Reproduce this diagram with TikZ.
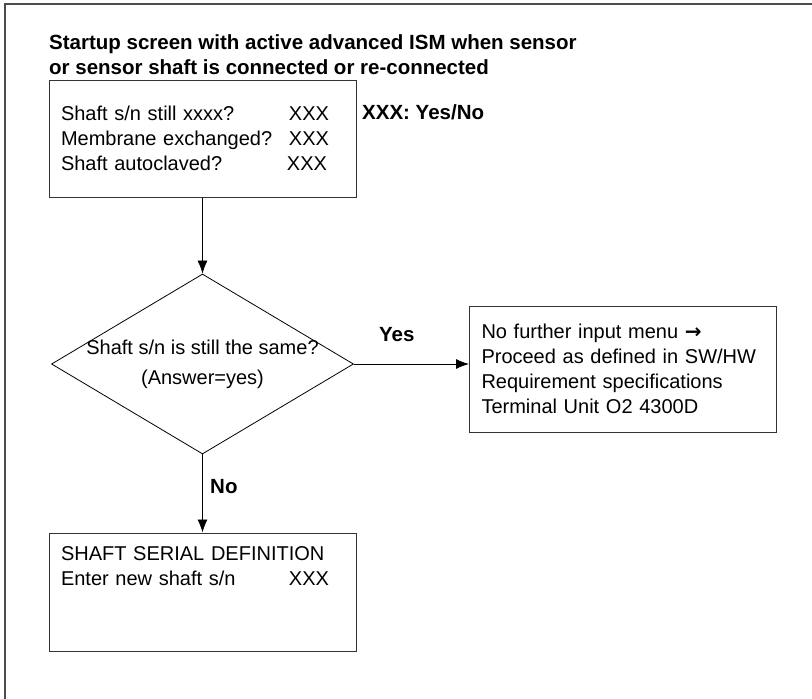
\documentclass[tikz,border=0pt]{standalone}
\usepackage{fontspec}
\setmainfont{Liberation Sans}
\newfontfamily\arrowfont{DejaVu Sans}
\usetikzlibrary{shapes,arrows,arrows.meta}
\tikzstyle{screen} = [rectangle, draw=black!80, line width=1pt, text width=283pt, inner xsep=12pt,
    inner ysep=0pt, minimum width=307pt, align=left, font=\fontsize{20}{25}\selectfont]
\tikzstyle{decision} = [diamond, draw, line width=0.8pt, minimum width=302pt, minimum height=180pt, inner sep=0pt]
\tikzstyle{line} = [draw, line width=0.8pt, -{Latex[length=13pt,width=10pt]}]
\tikzstyle{boldtext} = [inner sep=0pt, font=\fontsize{20.5}{25}\selectfont\bfseries]
\tikzstyle{frame} = [draw=black!70, line width=1.5pt]

\begin{document}
\begin{tikzpicture}[x=1pt,y=-1pt,node distance=225.5pt,auto]
  \useasboundingbox (0,0) rectangle (812,699);
  \draw [frame] (5,699) -- (5,4) -- (812,4);

  \node [boldtext, anchor=west, align=left] (title) at (49,54.5) {Startup screen with active advanced ISM when sensor\\or sensor shaft is connected or re-connected};
  \node [screen, minimum height=117pt] (startup) at (202.5,138.5) {\makebox[228pt][l]{Shaft s/n still xxxx?}XXX\\
    \makebox[228pt][l]{Membrane exchanged?}XXX\\
    \makebox[226pt][l]{Shaft autoclaved?}XXX};
  \node [boldtext, anchor=west] (yesno) at (362,112) {XXX: Yes/No};

  \node [decision, below of=startup] (same) {};
  \node [align=center, font=\fontsize{20}{30}\selectfont] (question) at (same) {Shaft s/n is still the same?\\(Answer=yes)};

  \node [screen, minimum height=126pt, right of=same, node distance=420.5pt, yshift=-5pt] (proceed) {No further input menu {\arrowfont\bfseries →}\\
    Proceed as defined in SW/HW\\Requirement specifications\\Terminal Unit O2 4300D};
  \node [boldtext, anchor=west] (yes) at (379,335) {Yes};

  \node [screen, below of=same, node distance=228pt, text height=20pt, text depth=84pt, inner ysep=7pt] (serial) {SHAFT SERIAL DEFINITION\\
    \makebox[228pt][l]{Enter new shaft s/n}XXX};
  \node [boldtext, anchor=west] (no) at (210,487) {No};

  \path [line] (startup) -- (same);
  \path [line] (same.east) -- (same.east -| proceed.west);
  \path [line] (same) -- (serial);
\end{tikzpicture}
\end{document}
